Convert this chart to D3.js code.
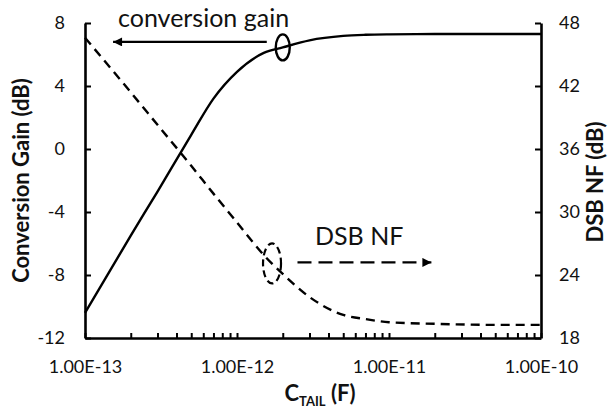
<!DOCTYPE html>
<html lang="en">
<head>
    <meta charset="UTF-8">
    <title>Conversion Gain and DSB NF vs C_TAIL</title>
    <style>
        body { margin: 0; background: #fff; }
        svg text { font-family: Lato, "Open Sans", sans-serif; fill: #111; }
        .tick text { font-size: 18px; }
        .axis-title { font-size: 22px; font-weight: bold; }
        .note { font-size: 25px; }
    </style>
</head>
<body>
    <svg id="chart" width="614" height="412"></svg>
    <script src="https://d3js.org/d3.v7.min.js"></script>
    <script>
        // values
        var capF = [1e-13, 2e-13, 3e-13, 5e-13, 7e-13, 1e-12, 1.5e-12, 2e-12, 3e-12, 5e-12, 7e-12, 1e-11, 2e-11, 5e-11, 1e-10];
        var gainDb = [-10.4, -5.5, -2.7, 0.9, 3.2, 4.9, 6.1, 6.45, 6.9, 7.18, 7.25, 7.28, 7.3, 7.3, 7.3];
        var nfDb = [46.6, 41.4, 38.3, 34.4, 31.75, 29.0, 25.9, 24.1, 21.9, 20.2, 19.8, 19.5, 19.35, 19.25, 19.25];

        var xDecades = [1e-13, 1e-12, 1e-11, 1e-10];
        var xTickLabels = ["1.00E-13", "1.00E-12", "1.00E-11", "1.00E-10"];
        var gainTicks = [-12, -8, -4, 0, 4, 8];
        var nfTicks = [18, 24, 30, 36, 42, 48];

        var margin = { top: 23, right: 73, bottom: 74, left: 85 },
            width = 614 - margin.left - margin.right,
            height = 412 - margin.top - margin.bottom;

        var svg = d3.select("#chart")
            .append("g")
            .attr("transform", "translate(" + margin.left + "," + margin.top + ")");

        var x = d3.scaleLog().domain([1e-13, 1e-10]).range([0, width]);
        var yGain = d3.scaleLinear().domain([-12, 8]).range([height, 0]);
        var yNf = d3.scaleLinear().domain([18, 48]).range([height, 0]);

        // arrow heads
        var defs = d3.select("#chart").append("defs");
        defs.append("marker")
            .attr("id", "head")
            .attr("viewBox", "0 0 10 10")
            .attr("refX", 10).attr("refY", 5)
            .attr("markerWidth", 11).attr("markerHeight", 9)
            .attr("markerUnits", "userSpaceOnUse")
            .attr("orient", "auto")
            .append("path")
            .attr("d", "M0,0L10,5L0,10Z")
            .attr("fill", "#000");

        // axes (plain hyphen for negatives, like the original)
        var plain = function(d) { return String(d); };
        var minorTicks = x.ticks();

        svg.append("g")
            .attr("class", "axis")
            .attr("transform", "translate(0," + height + ")")
            .call(d3.axisBottom(x)
                .tickValues(minorTicks)
                .tickSizeInner(-5)
                .tickSizeOuter(0)
                .tickPadding(22)
                .tickFormat(function(d) {
                    var i = xDecades.findIndex(function(v) { return Math.abs(v / d - 1) < 1e-6; });
                    return i >= 0 ? xTickLabels[i] : "";
                }));

        svg.append("g")
            .attr("class", "axis")
            .call(d3.axisLeft(yGain)
                .tickValues(gainTicks)
                .tickSizeInner(-6)
                .tickSizeOuter(0)
                .tickPadding(20)
                .tickFormat(plain));

        svg.append("g")
            .attr("class", "axis")
            .attr("transform", "translate(" + width + ",0)")
            .call(d3.axisRight(yNf)
                .tickValues(nfTicks)
                .tickSizeInner(-6)
                .tickSizeOuter(0)
                .tickPadding(18)
                .tickFormat(plain));

        svg.selectAll(".axis path").attr("stroke", "#000").attr("stroke-width", 2.6);
        svg.selectAll(".axis line").attr("stroke", "#000").attr("stroke-width", 2);
        svg.selectAll(".axis text").attr("fill", "#111");

        // curves
        var gainLine = d3.line()
            .x(function(d, i) { return x(capF[i]); })
            .y(function(d) { return yGain(d); })
            .curve(d3.curveMonotoneX);

        var nfLine = d3.line()
            .x(function(d, i) { return x(capF[i]); })
            .y(function(d) { return yNf(d); })
            .curve(d3.curveMonotoneX);

        svg.append("path")
            .datum(gainDb)
            .attr("d", gainLine)
            .attr("fill", "none")
            .attr("stroke", "#000")
            .attr("stroke-width", 2.4);

        svg.append("path")
            .datum(nfDb)
            .attr("d", nfLine)
            .attr("fill", "none")
            .attr("stroke", "#000")
            .attr("stroke-width", 2.4)
            .attr("stroke-dasharray", "9,6");

        // conversion gain note
        svg.append("ellipse")
            .attr("cx", x(2e-12)).attr("cy", yGain(6.45))
            .attr("rx", 7).attr("ry", 13)
            .attr("fill", "none").attr("stroke", "#000").attr("stroke-width", 2.4);

        svg.append("line")
            .attr("x1", x(1.57e-12)).attr("y1", yGain(6.8))
            .attr("x2", x(1.53e-13)).attr("y2", yGain(6.8))
            .attr("stroke", "#000").attr("stroke-width", 2.4)
            .attr("marker-end", "url(#head)");

        svg.append("text")
            .attr("class", "note")
            .attr("x", 33).attr("y", 4)
            .text("conversion gain");

        // DSB NF note
        svg.append("ellipse")
            .attr("cx", x(1.7e-12)).attr("cy", yNf(25.1))
            .attr("rx", 9).attr("ry", 20)
            .attr("fill", "none").attr("stroke", "#000").attr("stroke-width", 2.2)
            .attr("stroke-dasharray", "7,4");

        svg.append("line")
            .attr("x1", x(2.5e-12)).attr("y1", yNf(25.2))
            .attr("x2", x(1.9e-11)).attr("y2", yNf(25.2))
            .attr("stroke", "#000").attr("stroke-width", 2.4)
            .attr("stroke-dasharray", "14,7")
            .attr("marker-end", "url(#head)");

        svg.append("text")
            .attr("class", "note")
            .attr("x", 230).attr("y", 222)
            .text("DSB NF");

        // axis titles
        svg.append("text")
            .attr("class", "axis-title")
            .attr("transform", "translate(" + (-56) + "," + (height / 2) + ") rotate(-90)")
            .style("text-anchor", "middle")
            .text("Conversion Gain (dB)");

        svg.append("text")
            .attr("class", "axis-title")
            .attr("transform", "translate(" + (width + 62) + "," + 159 + ") rotate(-90)")
            .style("text-anchor", "middle")
            .text("DSB NF (dB)");

        var xTitle = svg.append("text")
            .attr("class", "axis-title")
            .attr("x", 235)
            .attr("y", 378)
            .style("text-anchor", "middle");
        xTitle.append("tspan").text("C");
        xTitle.append("tspan").attr("dy", 5).style("font-size", "13px").text("TAIL");
        xTitle.append("tspan").attr("dy", -5).text(" (F)");
    </script>
</body>
</html>
